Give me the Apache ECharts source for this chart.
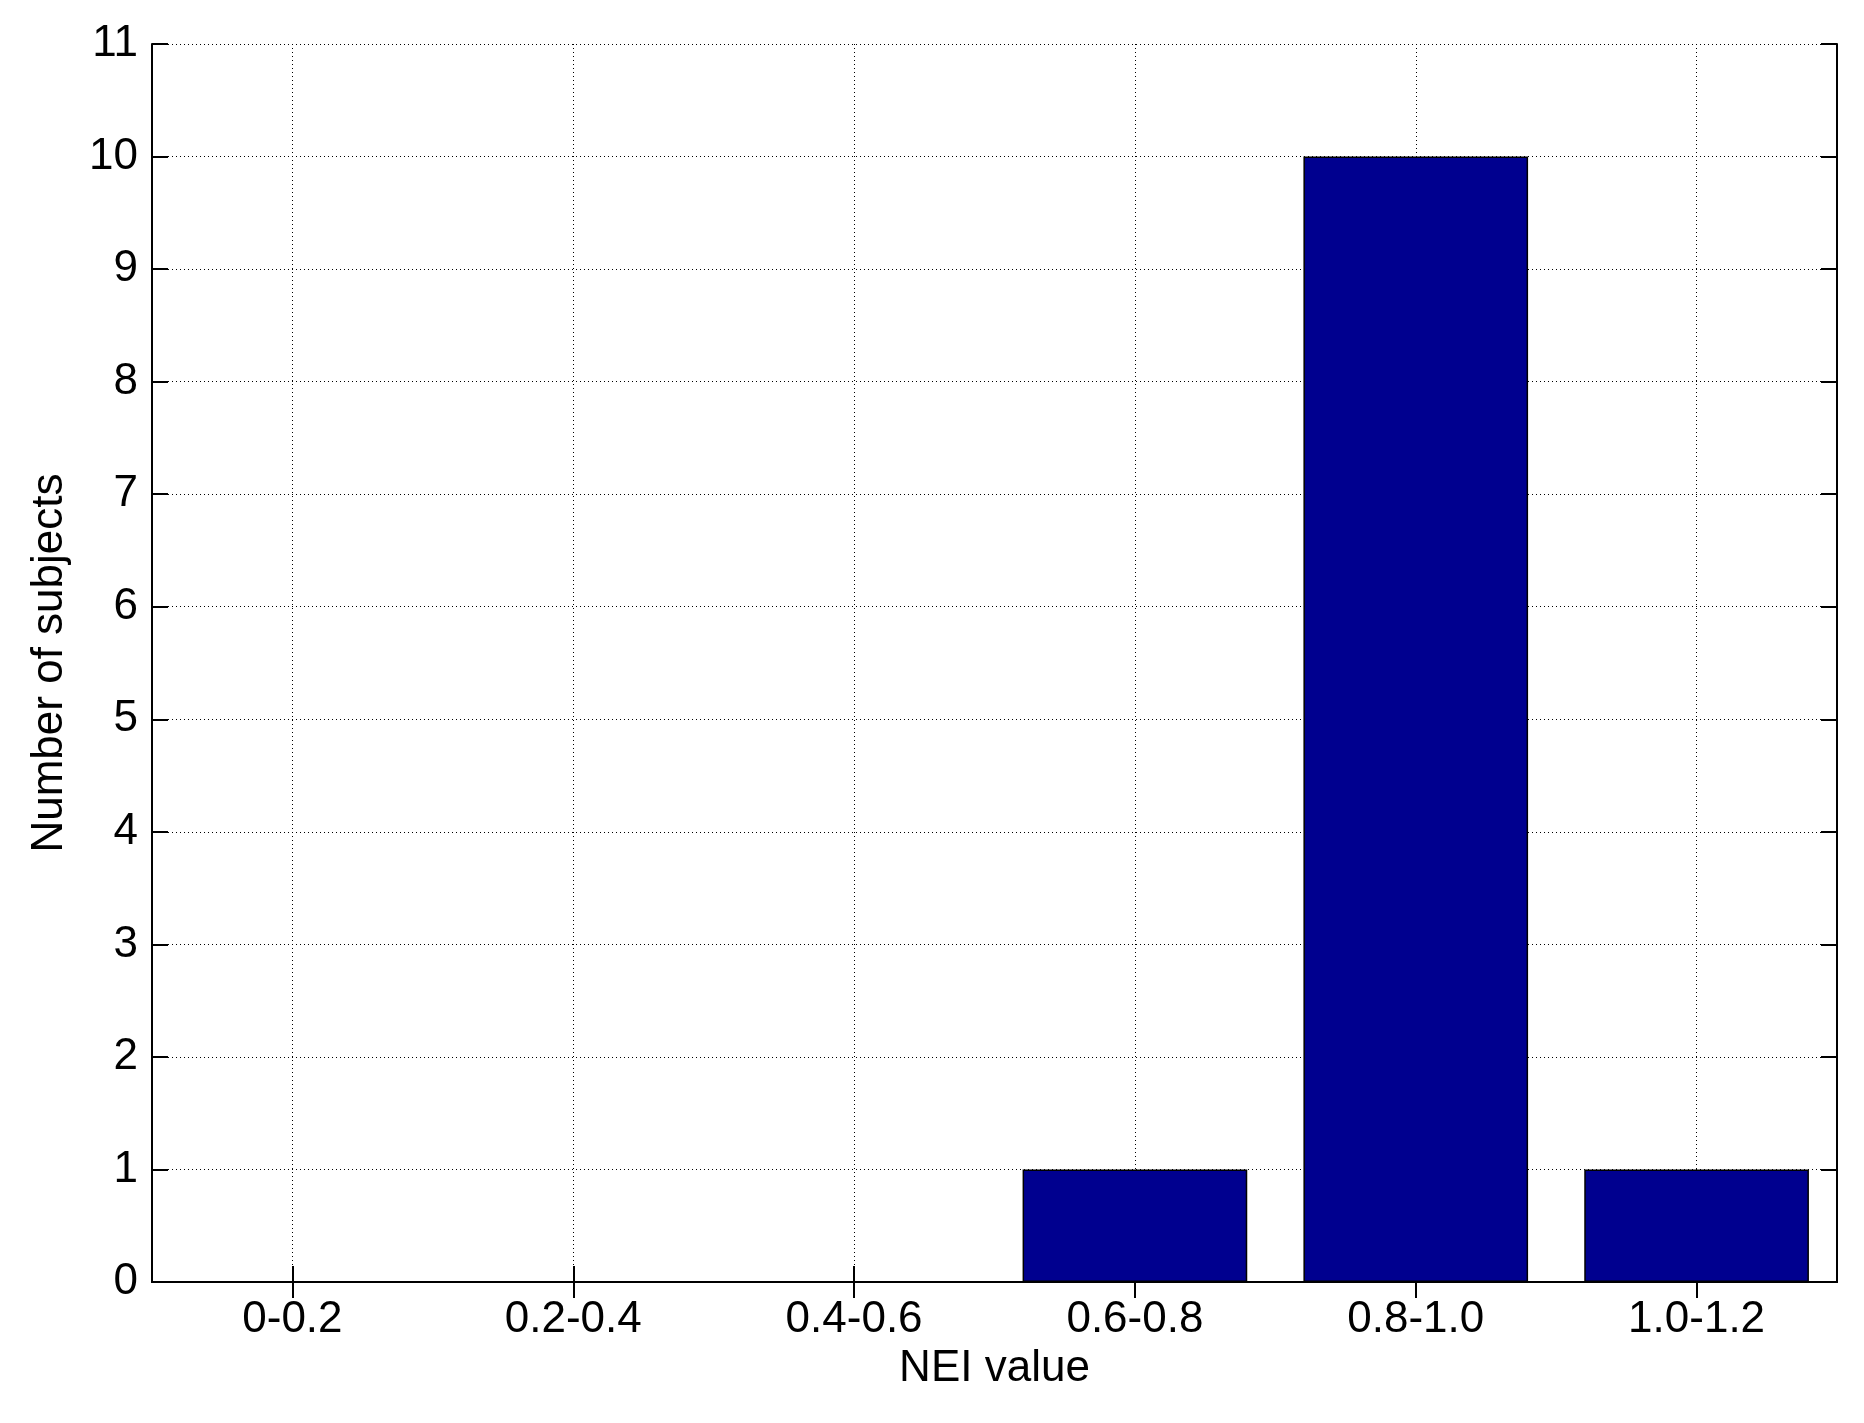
<!DOCTYPE html>
<html>
<head>
<meta charset="utf-8">
<script src="https://cdn.jsdelivr.net/npm/echarts@6/dist/echarts.min.js"></script>
<style>html,body{margin:0;padding:0;background:#fff}#c{width:1864px;height:1423px}</style>
</head>
<body>
<div id="c"></div>
<script>
const categories = ['0-0.2', '0.2-0.4', '0.4-0.6', '0.6-0.8', '0.8-1.0', '1.0-1.2'];
const counts = [0, 0, 0, 1, 10, 1];
const yTicks = { min: 0, max: 11, interval: 1 };
const xName = 'NEI value';
const yName = 'Number of subjects';

const FONT = 'Liberation Sans, Arial, sans-serif';
const FS = 44;
const chart = echarts.init(document.getElementById('c'));
const axisLineStyle = { color: '#000', width: 2 };
const tickStyle = { show: true, inside: true, length: 16, lineStyle: { color: '#000', width: 2 } };
const dotted = { show: true, lineStyle: { color: '#000', width: 1, type: [1, 3] } };

chart.setOption({
  animation: false,
  backgroundColor: '#fff',
  grid: { left: 152, right: 27, top: 44, bottom: 141, containLabel: false },
  xAxis: [{
    type: 'category', data: categories, position: 'bottom',
    name: xName, nameLocation: 'middle', nameGap: 60,
    nameTextStyle: { fontFamily: FONT, fontSize: FS, color: '#000' },
    axisLine: { show: true, lineStyle: axisLineStyle },
    axisTick: Object.assign({ alignWithLabel: true }, tickStyle),
    axisLabel: { fontFamily: FONT, fontSize: FS, color: '#000', margin: 16 },
    splitLine: Object.assign({ alignWithLabel: true }, dotted)
  }, {
    type: 'category', data: categories, position: 'top',
    axisLine: { show: true, lineStyle: axisLineStyle },
    axisTick: Object.assign({ alignWithLabel: true }, tickStyle),
    axisLabel: { show: false },
    splitLine: { show: false }
  }],
  yAxis: [{
    type: 'value', min: yTicks.min, max: yTicks.max, interval: yTicks.interval, position: 'left',
    name: yName, nameLocation: 'middle', nameGap: 80,
    nameTextStyle: { fontFamily: FONT, fontSize: FS, color: '#000' },
    axisLine: { show: true, lineStyle: axisLineStyle },
    axisTick: tickStyle,
    axisLabel: { fontFamily: FONT, fontSize: FS, color: '#000', margin: 14 },
    splitLine: dotted
  }, {
    type: 'value', min: yTicks.min, max: yTicks.max, interval: yTicks.interval, position: 'right',
    axisLine: { show: true, lineStyle: axisLineStyle },
    axisTick: tickStyle,
    axisLabel: { show: false },
    splitLine: { show: false }
  }],
  series: [{
    type: 'bar', data: counts, xAxisIndex: 0, yAxisIndex: 0,
    barCategoryGap: '20%',
    itemStyle: { color: '#00008F', borderColor: '#000', borderWidth: 1.5 }
  }]
});
</script>
</body>
</html>
